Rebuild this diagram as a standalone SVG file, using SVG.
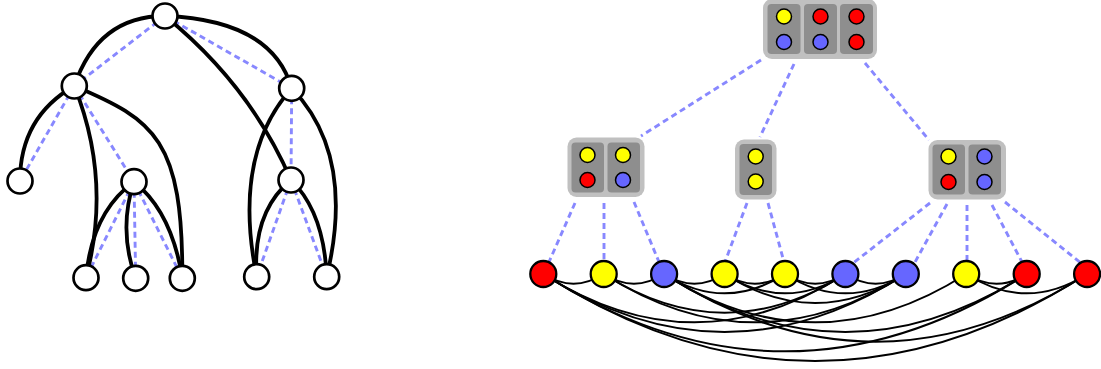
<svg xmlns="http://www.w3.org/2000/svg" width="1101" height="369" viewBox="0 0 1101 369">
<style>
.dash{fill:none;stroke:#8888ff;stroke-width:2.9;stroke-dasharray:6,4}
.tedge{fill:none;stroke:#000;stroke-width:3.8}
.gedge{fill:none;stroke:#000;stroke-width:2}
.tn{fill:#fff;stroke:#000;stroke-width:2.7}
.gn{stroke:#000;stroke-width:2.3}
.sc{stroke:#000;stroke-width:1.5}
.y{fill:#ffff00}.r{fill:#ff0000}.b{fill:#6666ff}
.outer{fill:#c0c0c0}.inner{fill:#8e8e8e}
</style>
<g id="tree-dashed">
<line class="dash" x1="165" y1="16" x2="74.3" y2="86"/>
<line class="dash" x1="165" y1="16" x2="291.7" y2="88.3"/>
<line class="dash" x1="74.3" y1="86" x2="20" y2="181"/>
<line class="dash" x1="74.3" y1="86" x2="134" y2="181.7"/>
<line class="dash" x1="291.7" y1="88.3" x2="291" y2="180"/>
<line class="dash" x1="134" y1="181.7" x2="86" y2="277.7"/>
<line class="dash" x1="134" y1="181.7" x2="135.7" y2="278.3"/>
<line class="dash" x1="134" y1="181.7" x2="182.3" y2="278.3"/>
<line class="dash" x1="291" y1="180" x2="256.7" y2="276.7"/>
<line class="dash" x1="291" y1="180" x2="326.7" y2="276.7"/>
</g>
<g id="tree-edges">
<path class="tedge" d="M165,16 Q98,16 74.3,86"/>
<path class="tedge" d="M165,16 Q272,20 291.7,88.3"/>
<path class="tedge" d="M165,16 Q250,85 291,180"/>
<path class="tedge" d="M74.3,86 Q20,117 20,181"/>
<path class="tedge" d="M74.3,86 Q112,180 86,277.7"/>
<path class="tedge" d="M74.3,86 C155,120 183,140 182.3,278.3"/>
<path class="tedge" d="M291.7,88.3 Q232,155 256.7,276.7"/>
<path class="tedge" d="M291.7,88.3 Q356,155 326.7,276.7"/>
<path class="tedge" d="M134,181.7 Q92,212 86,277.7"/>
<path class="tedge" d="M134,181.7 Q118,230 135.7,278.3"/>
<path class="tedge" d="M134,181.7 Q172,212 182.3,278.3"/>
<path class="tedge" d="M291,180 Q252,212 256.7,276.7"/>
<path class="tedge" d="M291,180 Q324,212 326.7,276.7"/>
</g>
<g id="tree-nodes">
<circle id="t-root" class="tn" cx="165" cy="16" r="12.5"/>
<circle id="t-a" class="tn" cx="74.3" cy="86" r="12.5"/>
<circle id="t-b" class="tn" cx="291.7" cy="88.3" r="12.5"/>
<circle id="t-l1" class="tn" cx="20" cy="181" r="12.5"/>
<circle id="t-c" class="tn" cx="134" cy="181.7" r="12.5"/>
<circle id="t-d" class="tn" cx="291" cy="180" r="12.5"/>
<circle id="t-b1" class="tn" cx="86" cy="277.7" r="12.5"/>
<circle id="t-b2" class="tn" cx="135.7" cy="278.3" r="12.5"/>
<circle id="t-b3" class="tn" cx="182.3" cy="278.3" r="12.5"/>
<circle id="t-b4" class="tn" cx="256.7" cy="276.7" r="12.5"/>
<circle id="t-b5" class="tn" cx="326.7" cy="276.7" r="12.5"/>
</g>
<g id="decomp-dashed">
<line class="dash" x1="761" y1="60" x2="641" y2="136"/>
<line class="dash" x1="794" y1="64" x2="760" y2="137"/>
<line class="dash" x1="865" y1="63" x2="929" y2="140"/>
<line class="dash" x1="575" y1="203" x2="549" y2="262"/>
<line class="dash" x1="604" y1="203" x2="604" y2="260"/>
<line class="dash" x1="634" y1="202" x2="659" y2="262"/>
<line class="dash" x1="747" y1="203" x2="725" y2="262"/>
<line class="dash" x1="768" y1="203" x2="784" y2="262"/>
<line class="dash" x1="930" y1="203" x2="852" y2="264"/>
<line class="dash" x1="947" y1="204" x2="914" y2="264"/>
<line class="dash" x1="967" y1="205" x2="967" y2="262"/>
<line class="dash" x1="992" y1="205" x2="1022" y2="262"/>
<line class="dash" x1="1005" y1="202" x2="1082" y2="264"/>
</g>
<g id="graph-edges">
<path class="gedge" d="M543.3,274 Q573.5,293.3 603.7,274"/>
<path class="gedge" d="M603.7,274 Q633.9,293.3 664.1,274"/>
<path class="gedge" d="M724.6,274 Q754.8,293.3 785,274"/>
<path class="gedge" d="M845.4,274 Q875.6,293.3 905.8,274"/>
<path class="gedge" d="M966.2,274 Q996.45,293.4 1026.7,274"/>
<path class="gedge" d="M966.2,274 Q1026.65,312.7 1087.1,274"/>
<path class="gedge" d="M603.7,274 Q724.55,351.3 845.4,274"/>
<path class="gedge" d="M603.7,274 Q754.75,370.7 905.8,274"/>
<path class="gedge" d="M664.1,274 Q694.35,293.4 724.6,274"/>
<path class="gedge" d="M664.1,274 Q724.55,312.7 785,274"/>
<path class="gedge" d="M724.6,274 Q785,312.7 845.4,274"/>
<path class="gedge" d="M724.6,274 Q815.2,332 905.8,274"/>
<path class="gedge" d="M785,274 Q815.2,293.3 845.4,274"/>
<path class="gedge" d="M785,274 Q845.4,312.7 905.8,274"/>
<path class="gedge" d="M664.1,274 Q815.15,370.7 966.2,274"/>
<path class="gedge" d="M543.3,274 Q694.35,370.7 845.4,274"/>
<path class="gedge" d="M543.3,274 Q724.55,390 905.8,274"/>
<path class="gedge" d="M664.1,274 Q845.4,390 1026.7,274"/>
<path class="gedge" d="M664.1,274 Q875.6,409.4 1087.1,274"/>
<path class="gedge" d="M543.3,274 Q785,428.7 1026.7,274"/>
<path class="gedge" d="M543.3,274 Q815.2,448 1087.1,274"/>
</g>
<g id="box-top">
<rect class="outer" x="763" y="-1" width="114" height="60" rx="9"/>
<rect class="inner" x="767.5" y="4" width="33" height="50" rx="4"/>
<rect class="inner" x="804" y="4" width="33" height="50" rx="4"/>
<rect class="inner" x="840" y="4" width="33" height="50" rx="4"/>
<circle class="sc y" cx="784" cy="16.5" r="7.5"/>
<circle class="sc b" cx="784" cy="42" r="7.5"/>
<circle class="sc r" cx="820.5" cy="16.5" r="7.5"/>
<circle class="sc b" cx="820.5" cy="42" r="7.5"/>
<circle class="sc r" cx="856.5" cy="16.5" r="7.5"/>
<circle class="sc r" cx="856.5" cy="42" r="7.5"/>
</g>
<g id="box-left">
<rect class="outer" x="567.5" y="137.5" width="77" height="59.5" rx="9"/>
<rect class="inner" x="571.5" y="142.5" width="32.5" height="50" rx="4"/>
<rect class="inner" x="607.5" y="142.5" width="32.5" height="50" rx="4"/>
<circle class="sc y" cx="587.5" cy="155" r="7.5"/>
<circle class="sc r" cx="587.5" cy="180" r="7.5"/>
<circle class="sc y" cx="623" cy="155" r="7.5"/>
<circle class="sc b" cx="623" cy="180" r="7.5"/>
</g>
<g id="box-mid">
<rect class="outer" x="735" y="139.5" width="41.5" height="60" rx="9"/>
<rect class="inner" x="739.5" y="144" width="32.5" height="51" rx="4"/>
<circle class="sc y" cx="755.7" cy="156.5" r="7.5"/>
<circle class="sc y" cx="755.7" cy="181.5" r="7.5"/>
</g>
<g id="box-right">
<rect class="outer" x="928.5" y="140" width="77.5" height="59.5" rx="9"/>
<rect class="inner" x="932.5" y="144.5" width="32.5" height="50" rx="4"/>
<rect class="inner" x="968.5" y="144.5" width="32.5" height="50" rx="4"/>
<circle class="sc y" cx="948.5" cy="156.5" r="7.5"/>
<circle class="sc r" cx="948.5" cy="182" r="7.5"/>
<circle class="sc b" cx="984.5" cy="156.5" r="7.5"/>
<circle class="sc b" cx="984.5" cy="182" r="7.5"/>
</g>
<g id="graph-nodes">
<circle id="g0" class="gn r" cx="543.3" cy="274" r="13"/>
<circle id="g1" class="gn y" cx="603.7" cy="274" r="13"/>
<circle id="g2" class="gn b" cx="664.1" cy="274" r="13"/>
<circle id="g3" class="gn y" cx="724.6" cy="274" r="13"/>
<circle id="g4" class="gn y" cx="785" cy="274" r="13"/>
<circle id="g5" class="gn b" cx="845.4" cy="274" r="13"/>
<circle id="g6" class="gn b" cx="905.8" cy="274" r="13"/>
<circle id="g7" class="gn y" cx="966.2" cy="274" r="13"/>
<circle id="g8" class="gn r" cx="1026.7" cy="274" r="13"/>
<circle id="g9" class="gn r" cx="1087.1" cy="274" r="13"/>
</g>
</svg>
